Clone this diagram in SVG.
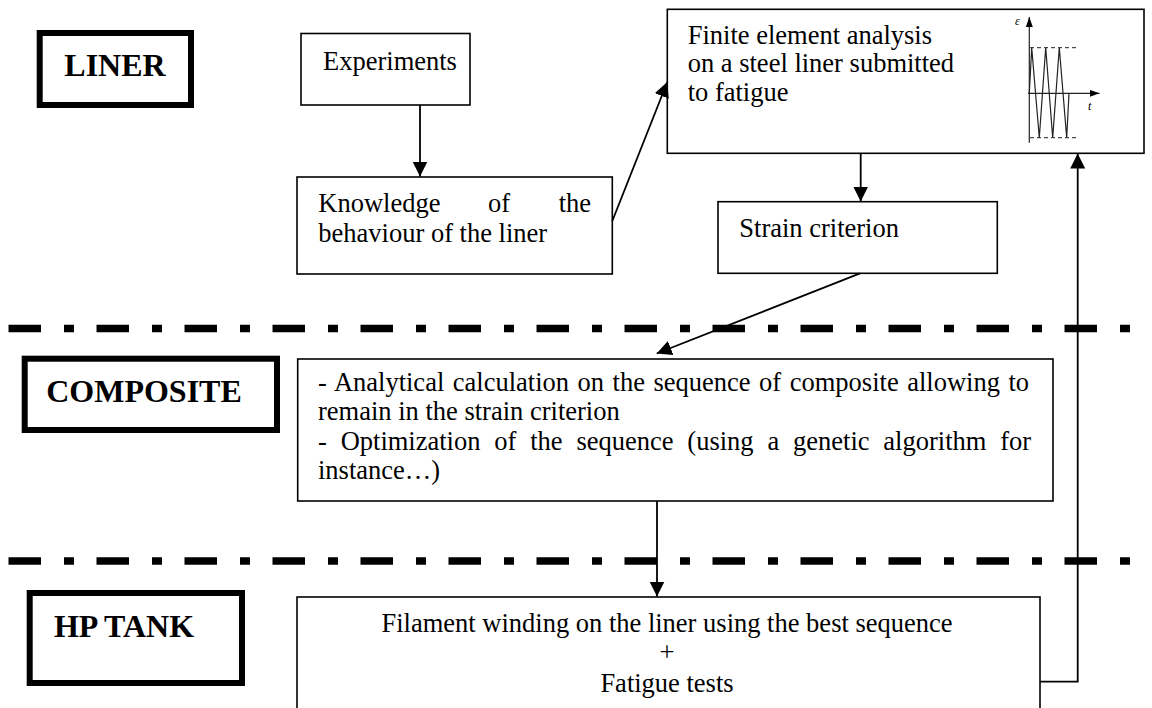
<svg xmlns="http://www.w3.org/2000/svg" width="1152" height="708" viewBox="0 0 1152 708">
<defs>
<style>
.box{fill:#fff;stroke:#000;stroke-width:1.6}
.tbox{fill:#fff;stroke:#000;stroke-width:6}
.t{font-family:"Liberation Serif","Times New Roman",serif;font-size:26.5px;fill:#000}
.b{font-family:"Liberation Serif","Times New Roman",serif;font-size:32px;font-weight:bold;fill:#000}
.c{fill:none;stroke:#000;stroke-width:1.8}
.dd{fill:none;stroke:#000;stroke-width:7.5;stroke-dasharray:32.5 23 10 22.5}
.g{fill:none;stroke:#222;stroke-width:1.2}
.gd{fill:none;stroke:#222;stroke-width:1;stroke-dasharray:4 3}
.gi{font-family:"Liberation Serif","Times New Roman",serif;font-size:12px;font-style:italic;fill:#000}
</style>
<marker id="arr" markerUnits="userSpaceOnUse" markerWidth="16" markerHeight="16" refX="15" refY="7.5" orient="auto">
<path d="M0,0 L15,7.5 L0,15 z" fill="#000"/>
</marker>
<marker id="sarr" markerUnits="userSpaceOnUse" markerWidth="10" markerHeight="8" refX="10" refY="3.5" orient="auto">
<path d="M0,0 L10,3.5 L0,7 z" fill="#000"/>
</marker>
</defs>
<rect width="1152" height="708" fill="#fff"/>

<g id="separators">
<line class="dd" x1="8.5" y1="328.5" x2="1132" y2="328.5"/>
<line class="dd" x1="8.5" y1="561" x2="1132" y2="561"/>
</g>

<g id="label-liner">
<rect class="tbox" x="39.7" y="33" width="151.3" height="72"/>
<text class="b" x="115" y="76" text-anchor="middle">LINER</text>
</g>
<g id="label-composite">
<rect class="tbox" x="24.7" y="358.7" width="252.3" height="71.3"/>
<text class="b" x="144" y="401.5" text-anchor="middle">COMPOSITE</text>
</g>
<g id="label-hptank">
<rect class="tbox" x="29.7" y="593" width="212.3" height="90"/>
<text class="b" x="124" y="637.3" text-anchor="middle">HP TANK</text>
</g>

<g id="experiments">
<rect class="box" x="301" y="33.5" width="169" height="71.5"/>
<text class="t" x="323" y="70">Experiments</text>
</g>

<g id="knowledge">
<rect class="box" x="297" y="177" width="315.3" height="97"/>
<text class="t" y="212.3"><tspan x="318.3">Knowledge</tspan><tspan x="488">of</tspan><tspan x="591" text-anchor="end">the</tspan></text>
<text class="t" x="318.3" y="241.7">behaviour of the liner</text>
</g>

<g id="fea">
<rect class="box" x="667.3" y="9.3" width="476.7" height="144"/>
<text class="t" x="687.7" y="43.5">Finite element analysis</text>
<text class="t" x="687.7" y="72">on a steel liner submitted</text>
<text class="t" x="687.7" y="100.5">to fatigue</text>
<g id="fatigue-graph">
<line class="g" x1="1029.3" y1="142.7" x2="1029.3" y2="17" marker-end="url(#sarr)"/>
<line class="g" x1="1028" y1="93.3" x2="1099.5" y2="93.3" marker-end="url(#sarr)"/>
<line class="gd" x1="1030" y1="47.7" x2="1077" y2="47.7"/>
<line class="gd" x1="1030" y1="137.7" x2="1077" y2="137.7"/>
<polyline class="g" points="1029.3,93.3 1031.7,47.7 1039.3,137.7 1045.7,47.7 1052.7,137.7 1059.3,47.7 1066.7,137.7 1069,93.3"/>
<text class="gi" x="1015" y="25">ε</text>
<text class="gi" x="1088" y="109.5">t</text>
</g>
</g>

<g id="strain">
<rect class="box" x="718" y="201.7" width="279.3" height="71.6"/>
<text class="t" x="739.3" y="237.3">Strain criterion</text>
</g>

<g id="composite">
<rect class="box" x="297.7" y="359" width="755.3" height="142"/>
<text class="t" x="318" y="391" style="word-spacing:1.9px">- Analytical calculation on the sequence of composite allowing to</text>
<text class="t" x="318" y="420.3">remain in the strain criterion</text>
<text class="t" x="318" y="449.6" style="word-spacing:7.2px">- Optimization of the sequence (using a genetic algorithm for</text>
<text class="t" x="318" y="479">instance…)</text>
</g>

<g id="hptank">
<rect class="box" x="297" y="597" width="743" height="125"/>
<text class="t" x="667" y="631.7" text-anchor="middle">Filament winding on the liner using the best sequence</text>
<text class="t" x="667" y="661" text-anchor="middle">+</text>
<text class="t" x="667" y="691.7" text-anchor="middle">Fatigue tests</text>
</g>

<g id="connectors">
<line class="c" x1="420" y1="105" x2="420" y2="176.5" marker-end="url(#arr)"/>
<line class="c" x1="612.3" y1="221" x2="667.3" y2="82" marker-end="url(#arr)"/>
<line class="c" x1="860.7" y1="153.3" x2="860.7" y2="201.5" marker-end="url(#arr)"/>
<line class="c" x1="860" y1="273.3" x2="656.7" y2="353.5" marker-end="url(#arr)"/>
<line class="c" x1="657" y1="501" x2="657" y2="596.5" marker-end="url(#arr)"/>
<polyline class="c" points="1040,681.7 1077.7,681.7 1077.7,153.5" marker-end="url(#arr)"/>
</g>
</svg>
